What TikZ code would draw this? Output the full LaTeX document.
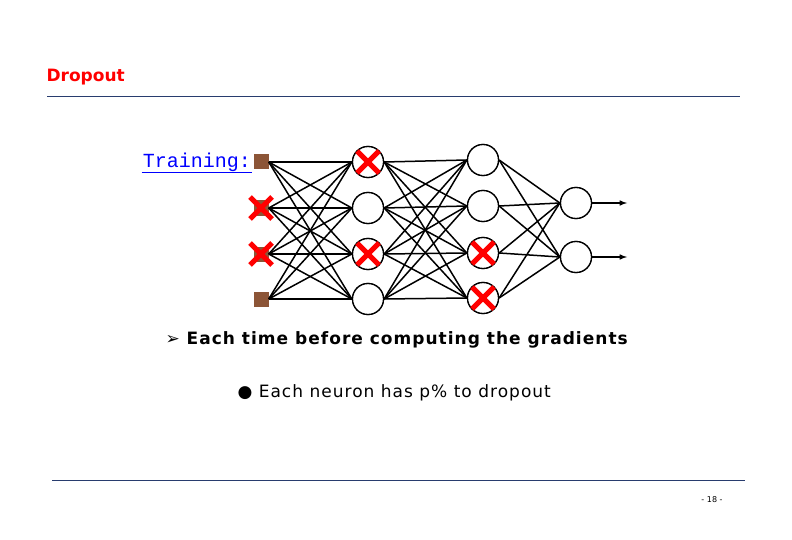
\documentclass[tikz,border=0pt]{standalone}
\usepackage{fontspec}
\setmainfont{DejaVu Sans}
\newfontfamily\spacedfont[LetterSpace=6]{DejaVu Sans}
\newfontfamily\monofont{Liberation Mono}
\definecolor{rulecol}{RGB}{40,60,110}
\definecolor{inbrown}{RGB}{140,85,55}
\tikzset{
  neuron/.style={circle, draw, line width=1.3pt, fill=white, minimum size=31pt, inner sep=0pt},
  inunit/.style={rectangle, fill=inbrown, minimum size=15pt, inner sep=0pt},
  wire/.style={line width=1.5pt},
  dropx/.style={draw=red, line width=5pt},
}
\newcommand{\dropmark}[1]{%
  \path[dropx] (#1) +(-11,-11) -- +(11,11);
  \path[dropx] (#1) +(-11,11) -- +(11,-11);}
\begin{document}
\begin{tikzpicture}[x=1pt,y=-1pt]
	\useasboundingbox (0,0) rectangle (792,540);

	% header and footer
	\node (title) [anchor=west, text=red, font=\bfseries\fontsize{17}{20}\selectfont] at (43,77) {Dropout};
	\draw[rulecol] (47,96) -- (740,96);
	\draw[rulecol] (52,480) -- (745,480);
	\node (page) [font=\fontsize{8}{10}\selectfont] at (712,500) {- 18 -};

	% layers
	\foreach \i/\y in {1/162,2/208,3/254,4/299}
		\node (a\i) [inunit] at (261,\y) {};
	\foreach \i/\y in {1/162,2/208,3/254,4/299}
		\node (b\i) [neuron] at (368,\y) {};
	\foreach \i/\y in {1/160,2/206,3/253,4/298}
		\node (c\i) [neuron] at (483,\y) {};
	\foreach \i/\y in {1/203,2/257}
		\node (d\i) [neuron] at (576,\y) {};
	\coordinate (o1) at (627,203);
	\coordinate (o2) at (627,257);

	% connections
	\foreach \i in {1,...,4}
		\foreach \j in {1,...,4} {
			\draw[wire] (a\i.east) -- (b\j.west);
			\draw[wire] (b\i.east) -- (c\j.west);
		}
	\foreach \i in {1,...,4}
		\foreach \j in {1,2}
			\draw[wire] (c\i.east) -- (d\j.west);
	\foreach \i in {1,...,4} {
		\node[neuron] at (b\i) {};
		\node[neuron] at (c\i) {};
	}
	\node[neuron] at (d1) {};
	\node[neuron] at (d2) {};
	\draw[wire, -latex] (d1) -- (o1);
	\draw[wire, -latex] (d2) -- (o2);

	% dropped units
	\dropmark{a2}
	\dropmark{a3}
	\dropmark{b1}
	\dropmark{b3}
	\dropmark{c3}
	\dropmark{c4}

	% text
	\node (train) [anchor=east, text=blue, inner sep=1pt, font=\monofont\fontsize{20}{22}\selectfont] at (252,162) {Training:};
	\draw[blue, thick] (train.south west) -- (train.south east);
	\node (item1) [anchor=west, font=\spacedfont\bfseries\fontsize{17}{20}\selectfont] at (162,340) {\char"27A2\ Each time before computing the gradients};
	\node (item2) [anchor=west, font=\spacedfont\fontsize{17}{20}\selectfont] at (234,393) {\char"25CF\ Each neuron has p\% to dropout};
\end{tikzpicture}
\end{document}
